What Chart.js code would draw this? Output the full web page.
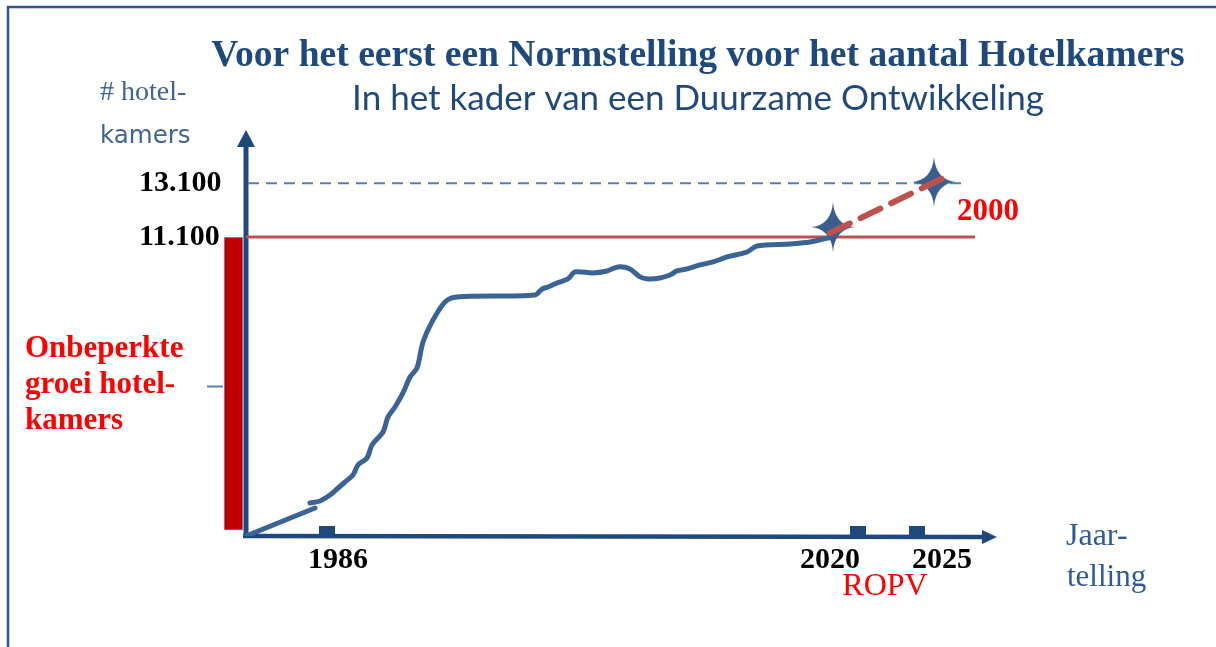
<!DOCTYPE html>
<html><head><meta charset="utf-8">
<script src="https://cdn.jsdelivr.net/npm/chart.js@4.4.1/dist/chart.umd.min.js"></script>
<style>html,body{margin:0;padding:0;background:#fff;overflow:hidden;}canvas{display:block;}</style>
</head><body><canvas id="c" width="1216" height="647"></canvas>
<script>
// ---- data (schematic x position units, y = number of hotel rooms) ----
const earlyX = [0, 6.9];
const earlyY = [0, 1040];
const growthX = [6.4,7.4,8.4,9.1,9.9,10.7,11.2,12.1,12.6,13.7,14.2,14.9,15.7,16.4,17.1,17.7,18.6,19.9,21.1,28.9,29.6,30.2,31.1,32.2,32.9,34.7,36.1,37.2,38.4,39.4,40.2,41.4,42.4,43.1,44.1,45.4,46.7,48.1,50.1,51.1,54.4,56.4,58.6];
const growthY = [1225,1300,1520,1745,2005,2265,2635,2895,3380,3860,4420,4790,5310,5900,6240,7200,7950,8690,8875,8950,9170,9245,9395,9545,9805,9765,9840,9990,9915,9620,9545,9580,9690,9840,9915,10065,10175,10360,10545,10770,10845,10915,11100];
const normLevel = 11100;
const normSpanX = [0, 72.9];
const targetLevel = 13100;
const targetSpanX = [0.2, 72.1];
const projectionX = [58.4, 69.7];
const projectionY = [11250, 13290];
const starX = [58.7, 68.8];
const starY = [11470, 13150];
const yearMarkerX = [8.1, 61.2, 67.1];
const yearMarkerY = [186, 186, 186];
const xTickPos = [9.2, 58.4, 69.6];
const xTickLabels = ['1986', '2020', '2025'];
const yTickValues = [11100, 13100];
const yTickLabels = ['11.100', '13.100'];
const unlimitedBarX = -1.25;
const unlimitedBarRange = [220, 11100];
const midTickX = [-3.9, -2.3];
const midTickLevel = 5550;
const xAxisEnd = 75.1;

const zip = (xs, ys) => xs.map((x, i) => ({x: x, y: Array.isArray(ys) ? ys[i] : ys}));

function makeStar(w, h, color) {
  const c = document.createElement('canvas'); c.width = w; c.height = h;
  const g = c.getContext('2d');
  const cx = w / 2, cy = h / 2, k = 0.04;
  g.fillStyle = color; g.beginPath();
  g.moveTo(cx, 0);
  g.quadraticCurveTo(cx + w * k, cy - h * k, w, cy);
  g.quadraticCurveTo(cx + w * k, cy + h * k, cx, h);
  g.quadraticCurveTo(cx - w * k, cy + h * k, 0, cy);
  g.quadraticCurveTo(cx - w * k, cy - h * k, cx, 0);
  g.fill();
  return c;
}
function makeRect(w, h, color) {
  const c = document.createElement('canvas'); c.width = w; c.height = h;
  const g = c.getContext('2d'); g.fillStyle = color; g.fillRect(0, 0, w, h);
  return c;
}
const starImg = makeStar(44, 50, '#3A5F8F');
const markerImg = makeRect(16, 9, '#1F497D');

const BLUE = '#3A6496', AXIS = '#1F497D', RED_LINE = '#C0504D';

const decor = {
  id: 'decor',
  beforeDraw(chart) {
    const ctx = chart.ctx;
    ctx.save();
    ctx.fillStyle = '#fff'; ctx.fillRect(0, 0, chart.width, chart.height);
    ctx.strokeStyle = '#2F5597'; ctx.lineWidth = 2.5;
    ctx.beginPath(); ctx.moveTo(8, 647); ctx.lineTo(8, 7); ctx.lineTo(1216, 7); ctx.stroke();
    ctx.restore();
  },
  beforeDatasetsDraw(chart) {
    const ctx = chart.ctx, xs = chart.scales.x, ys = chart.scales.y;
    const x0 = xs.getPixelForValue(0), y0 = ys.getPixelForValue(0);
    const top = chart.chartArea.top - 2, xEnd = xs.getPixelForValue(xAxisEnd);
    ctx.save();
    ctx.strokeStyle = AXIS; ctx.fillStyle = AXIS;
    ctx.lineWidth = 5;
    ctx.beginPath(); ctx.moveTo(x0, y0 + 2); ctx.lineTo(x0, top + 14); ctx.stroke();
    ctx.beginPath(); ctx.moveTo(x0, top); ctx.lineTo(x0 - 9, top + 17); ctx.lineTo(x0 + 9, top + 17); ctx.closePath(); ctx.fill();
    ctx.lineWidth = 4.5;
    ctx.beginPath(); ctx.moveTo(x0 - 3, y0); ctx.lineTo(xEnd - 12, y0 + 1); ctx.stroke();
    ctx.beginPath(); ctx.moveTo(xEnd, y0 + 1); ctx.lineTo(xEnd - 15, y0 - 6); ctx.lineTo(xEnd - 15, y0 + 8); ctx.closePath(); ctx.fill();
    ctx.restore();
  },
  afterDraw(chart) {
    const ctx = chart.ctx;
    ctx.save();
    ctx.textBaseline = 'alphabetic';
    const t = (s, x, y, font, color, align) => { ctx.font = font; ctx.fillStyle = color; ctx.textAlign = align || 'left'; ctx.fillText(s, x, y); };
    t('# hotel-', 100, 100, '28px "Liberation Serif"', '#3F6496');
    t('kamers', 100, 143, '24.5px "DejaVu Sans"', '#3F6496');
    const rf = 'bold 31px "Liberation Serif"';
    t('Onbeperkte', 25, 357, rf, '#FF0000');
    t('groei hotel-', 25, 393, rf, '#FF0000');
    t('kamers', 25, 429, rf, '#FF0000');
    t('2000', 957, 220, 'bold 31px "Liberation Serif"', '#FF0000');
    t('ROPV', 885, 595, '32px "Liberation Serif"', '#FF0000', 'center');
    t('Jaar-', 1066, 545, '32px "Liberation Serif"', '#2E5B96');
    t('telling', 1067, 586, '31px "Liberation Serif"', '#2E5B96');
    ctx.restore();
  }
};

new Chart(document.getElementById('c'), {
  type: 'line',
  data: {
    datasets: [
      { label: 'projection', data: zip(projectionX, projectionY), borderColor: RED_LINE, borderWidth: 6, borderDash: [22, 12], borderCapStyle: 'round', pointRadius: 0, order: 0 },
      { label: 'stars', data: zip(starX, starY), showLine: false, pointStyle: starImg, pointRadius: 22, order: 1 },
      { label: 'growth', data: zip(growthX, growthY), borderColor: BLUE, borderWidth: 5, tension: 0.3, pointRadius: 0, borderCapStyle: 'round', order: 2 },
      { label: 'early', data: zip(earlyX, earlyY), borderColor: BLUE, borderWidth: 5, pointRadius: 0, borderCapStyle: 'round', order: 3 },
      { label: 'norm', data: zip(normSpanX, normLevel), borderColor: RED_LINE, borderWidth: 3, pointRadius: 0, order: 4 },
      { label: 'target', data: zip(targetSpanX, targetLevel), borderColor: '#4F81BD', borderWidth: 2, borderDash: [11, 7], pointRadius: 0, order: 5 },
      { label: 'markers', data: zip(yearMarkerX, yearMarkerY), showLine: false, pointStyle: markerImg, pointRadius: 8, order: 6, clip: false },
      { label: 'midtick', data: zip(midTickX, midTickLevel), borderColor: '#4F81BD', borderWidth: 2, pointRadius: 0, clip: false, order: 7 },
      { type: 'bar', label: 'onbeperkt', data: [{x: unlimitedBarX, y: unlimitedBarRange}], backgroundColor: '#C00000', borderColor: '#7FA5D6', borderWidth: 1, borderSkipped: false, barThickness: 19, clip: false, order: 8 }
    ]
  },
  options: {
    responsive: false, animation: false,
    layout: { padding: { left: 180, right: 0, top: 0, bottom: 0 } },
    plugins: {
      legend: { display: false }, tooltip: { enabled: false },
      title: { display: true, text: 'Voor het eerst een Normstelling voor het aantal Hotelkamers', color: '#1F497D',
        font: { family: 'Liberation Serif', size: 37.6, weight: 'bold', lineHeight: 1 }, padding: { top: 37, bottom: 0 } },
      subtitle: { display: true, text: 'In het kader van een Duurzame Ontwikkeling', color: '#1F497D',
        font: { family: 'Lato', size: 35, weight: 'normal', lineHeight: 1 }, padding: { top: 7, bottom: 15.4 } }
    },
    scales: {
      x: { type: 'linear', min: -1.5, max: 94.7, offset: false,
        grid: { display: false, drawTicks: false }, border: { display: false },
        afterBuildTicks: s => { s.ticks = xTickPos.map(v => ({ value: v })); },
        afterFit: s => { s.height = 111; s.paddingLeft = 0; s.paddingRight = 0; },
        ticks: { autoSkip: false, maxRotation: 0, padding: 6, color: '#000',
          font: { family: 'Liberation Serif', size: 30, weight: 'bold' },
          callback: (v, i) => xTickLabels[i] } },
      y: { type: 'linear', min: 0, max: 15000,
        grid: { display: false, drawTicks: false }, border: { display: false },
        afterBuildTicks: s => { s.ticks = yTickValues.map(v => ({ value: v })); },
        afterFit: s => { s.width = 51; s.paddingTop = 0; s.paddingBottom = 0; },
        ticks: { mirror: true, padding: -92, color: '#000', font: { family: 'Liberation Serif', size: 30, weight: 'bold' },
          callback: (v, i) => yTickLabels[i] } }
    }
  },
  plugins: [decor]
});
</script></body></html>
